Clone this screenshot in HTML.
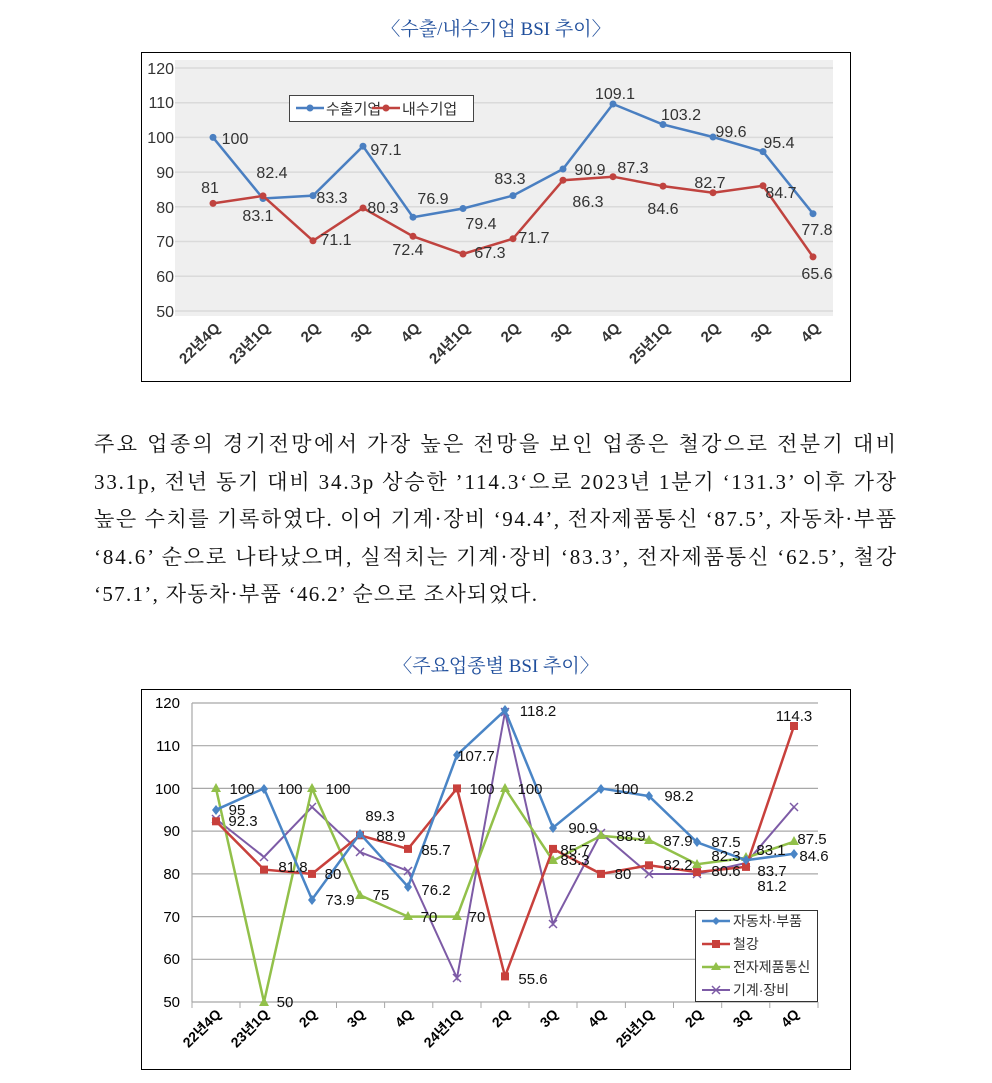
<!DOCTYPE html>
<html><head><meta charset="utf-8"><style>
html,body{margin:0;padding:0;background:#fff;}
svg{display:block;}
.t{font-family:"Liberation Sans","Noto Sans CJK KR",sans-serif;fill:#333;}
.b{font-family:"Liberation Serif","Noto Serif CJK SC",serif;fill:#111;font-size:21px;}
.h{font-family:"Liberation Serif","Noto Serif CJK SC",serif;fill:#1f4e9c;font-size:19px;}
</style></head><body>
<svg width="992" height="1083" viewBox="0 0 992 1083" xmlns="http://www.w3.org/2000/svg">
<text class="h" x="496" y="35" text-anchor="middle">〈수출/내수기업 BSI 추이〉</text>
<!-- top chart -->
<rect x="141.5" y="52.5" width="709" height="329" fill="#fff" stroke="#000"/>
<rect x="175" y="60" width="658" height="256" fill="#efefef"/>
<g stroke="#dadada" stroke-width="1.5">
<line x1="175" x2="833" y1="68" y2="68"/><line x1="175" x2="833" y1="102.7" y2="102.7"/><line x1="175" x2="833" y1="137.4" y2="137.4"/><line x1="175" x2="833" y1="172.1" y2="172.1"/><line x1="175" x2="833" y1="206.8" y2="206.8"/><line x1="175" x2="833" y1="241.5" y2="241.5"/><line x1="175" x2="833" y1="276.3" y2="276.3"/><line x1="175" x2="833" y1="311" y2="311"/>
</g>
<g class="t" font-size="16" text-anchor="end">
<text x="174" y="74">120</text><text x="174" y="108">110</text><text x="174" y="143">100</text><text x="174" y="178">90</text><text x="174" y="213">80</text><text x="174" y="247">70</text><text x="174" y="282">60</text><text x="174" y="317">50</text>
</g>
<g class="t" font-size="15" font-weight="bold" text-anchor="end">
<text transform="translate(221,329) rotate(-45)">22년4Q</text>
<text transform="translate(271,329) rotate(-45)">23년1Q</text>
<text transform="translate(321,329) rotate(-45)">2Q</text>
<text transform="translate(371,329) rotate(-45)">3Q</text>
<text transform="translate(421,329) rotate(-45)">4Q</text>
<text transform="translate(471,329) rotate(-45)">24년1Q</text>
<text transform="translate(521,329) rotate(-45)">2Q</text>
<text transform="translate(571,329) rotate(-45)">3Q</text>
<text transform="translate(621,329) rotate(-45)">4Q</text>
<text transform="translate(671,329) rotate(-45)">25년1Q</text>
<text transform="translate(721,329) rotate(-45)">2Q</text>
<text transform="translate(771,329) rotate(-45)">3Q</text>
<text transform="translate(821,329) rotate(-45)">4Q</text>
</g>
<polyline fill="none" stroke="#4a7fc1" stroke-width="2.5" points="213,137.4 263,198.5 313,195.6 363,146.2 413,217.2 463,208.5 513,195.6 563,169 613,104 663,124.5 713,137 763,151.6 813,213.7"/>
<g fill="#4a7fc1"><circle cx="213" cy="137.4" r="3.5"/><circle cx="263" cy="198.5" r="3.5"/><circle cx="313" cy="195.6" r="3.5"/><circle cx="363" cy="146.2" r="3.5"/><circle cx="413" cy="217.2" r="3.5"/><circle cx="463" cy="208.5" r="3.5"/><circle cx="513" cy="195.6" r="3.5"/><circle cx="563" cy="169" r="3.5"/><circle cx="613" cy="104" r="3.5"/><circle cx="663" cy="124.5" r="3.5"/><circle cx="713" cy="137" r="3.5"/><circle cx="763" cy="151.6" r="3.5"/><circle cx="813" cy="213.7" r="3.5"/></g>
<polyline fill="none" stroke="#c0433f" stroke-width="2.5" points="213,203.4 263,195.9 313,240.8 363,208 413,236.3 463,254 513,238.7 563,180.2 613,176.7 663,186.1 713,192.7 763,185.7 813,256.9"/>
<g fill="#c0433f"><circle cx="213" cy="203.4" r="3.5"/><circle cx="263" cy="195.9" r="3.5"/><circle cx="313" cy="240.8" r="3.5"/><circle cx="363" cy="208" r="3.5"/><circle cx="413" cy="236.3" r="3.5"/><circle cx="463" cy="254" r="3.5"/><circle cx="513" cy="238.7" r="3.5"/><circle cx="563" cy="180.2" r="3.5"/><circle cx="613" cy="176.7" r="3.5"/><circle cx="663" cy="186.1" r="3.5"/><circle cx="713" cy="192.7" r="3.5"/><circle cx="763" cy="185.7" r="3.5"/><circle cx="813" cy="256.9" r="3.5"/></g>
<g class="t" font-size="16" text-anchor="middle">
<text x="235" y="144">100</text><text x="272" y="178">82.4</text><text x="332" y="203">83.3</text><text x="386" y="155">97.1</text><text x="433" y="204">76.9</text><text x="481" y="229">79.4</text><text x="510" y="184">83.3</text><text x="590" y="175">90.9</text><text x="615" y="99">109.1</text><text x="681" y="120">103.2</text><text x="731" y="137">99.6</text><text x="779" y="148">95.4</text><text x="817" y="235">77.8</text>
<text x="210" y="193">81</text><text x="258" y="221">83.1</text><text x="336" y="245">71.1</text><text x="383" y="213">80.3</text><text x="408" y="255">72.4</text><text x="490" y="258">67.3</text><text x="534" y="243">71.7</text><text x="588" y="207">86.3</text><text x="633" y="173">87.3</text><text x="663" y="214">84.6</text><text x="710" y="188">82.7</text><text x="781" y="198">84.7</text><text x="817" y="279">65.6</text>
</g>
<rect x="289.5" y="95.5" width="184" height="26" fill="#fff" stroke="#444"/>
<line x1="296" x2="324" y1="108" y2="108" stroke="#4a7fc1" stroke-width="2.5"/><circle cx="310" cy="108" r="3.5" fill="#4a7fc1"/>
<text class="t" x="326" y="114" font-size="15" fill="#111">수출기업</text>
<line x1="372" x2="400" y1="108" y2="108" stroke="#c0433f" stroke-width="2.5"/><circle cx="386" cy="108" r="3.5" fill="#c0433f"/>
<text class="t" x="402" y="114" font-size="15" fill="#111">내수기업</text>

<!-- body text -->
<text class="b" x="94" y="451" textLength="802" lengthAdjust="spacing">주요 업종의 경기전망에서 가장 높은 전망을 보인 업종은 철강으로 전분기 대비</text>
<text class="b" x="94" y="489" textLength="802" lengthAdjust="spacing">33.1p, 전년 동기 대비 34.3p 상승한 ’114.3‘으로 2023년 1분기 ‘131.3’ 이후 가장</text>
<text class="b" x="94" y="526" textLength="802" lengthAdjust="spacing">높은 수치를 기록하였다. 이어 기계·장비 ‘94.4’, 전자제품통신 ‘87.5’, 자동차·부품</text>
<text class="b" x="94" y="564" textLength="802" lengthAdjust="spacing">‘84.6’ 순으로 나타났으며, 실적치는 기계·장비 ‘83.3’, 전자제품통신 ‘62.5’, 철강</text>
<text class="b" x="94" y="601" textLength="443" lengthAdjust="spacing">‘57.1’, 자동차·부품 ‘46.2’ 순으로 조사되었다.</text>

<text class="h" x="496" y="672" text-anchor="middle">〈주요업종별 BSI 추이〉</text>
<!-- bottom chart -->
<rect x="141.5" y="689.5" width="709" height="380" fill="#fff" stroke="#000"/>
<g stroke="#a8a8a8" stroke-width="1.2">
<line x1="192" x2="818" y1="703" y2="703"/><line x1="192" x2="818" y1="745.7" y2="745.7"/><line x1="192" x2="818" y1="788.4" y2="788.4"/><line x1="192" x2="818" y1="831.1" y2="831.1"/><line x1="192" x2="818" y1="873.9" y2="873.9"/><line x1="192" x2="818" y1="916.6" y2="916.6"/><line x1="192" x2="818" y1="959.3" y2="959.3"/><line x1="192" x2="818" y1="1002" y2="1002"/>
<line x1="192" x2="192" y1="703" y2="1002"/>
</g>
<g stroke="#a8a8a8" stroke-width="1"><line x1="192" x2="192" y1="1002" y2="1008"/><line x1="240" x2="240" y1="1002" y2="1008"/><line x1="288" x2="288" y1="1002" y2="1008"/><line x1="336.5" x2="336.5" y1="1002" y2="1008"/><line x1="384.6" x2="384.6" y1="1002" y2="1008"/><line x1="432.8" x2="432.8" y1="1002" y2="1008"/><line x1="481" x2="481" y1="1002" y2="1008"/><line x1="529" x2="529" y1="1002" y2="1008"/><line x1="577" x2="577" y1="1002" y2="1008"/><line x1="625.4" x2="625.4" y1="1002" y2="1008"/><line x1="673.5" x2="673.5" y1="1002" y2="1008"/><line x1="721.7" x2="721.7" y1="1002" y2="1008"/><line x1="769.8" x2="769.8" y1="1002" y2="1008"/><line x1="818" x2="818" y1="1002" y2="1008"/></g>
<g class="t" font-size="15" text-anchor="end">
<text x="180" y="708" fill="#000">120</text><text x="180" y="751" fill="#000">110</text><text x="180" y="794" fill="#000">100</text><text x="180" y="836" fill="#000">90</text><text x="180" y="879" fill="#000">80</text><text x="180" y="922" fill="#000">70</text><text x="180" y="964" fill="#000">60</text><text x="180" y="1007" fill="#000">50</text>
</g>
<g class="t" font-size="14" font-weight="bold" text-anchor="end">
<text transform="translate(222,1015) rotate(-45)" fill="#000">22년4Q</text>
<text transform="translate(270,1015) rotate(-45)" fill="#000">23년1Q</text>
<text transform="translate(318,1015) rotate(-45)" fill="#000">2Q</text>
<text transform="translate(366,1015) rotate(-45)" fill="#000">3Q</text>
<text transform="translate(414,1015) rotate(-45)" fill="#000">4Q</text>
<text transform="translate(463,1015) rotate(-45)" fill="#000">24년1Q</text>
<text transform="translate(511,1015) rotate(-45)" fill="#000">2Q</text>
<text transform="translate(559,1015) rotate(-45)" fill="#000">3Q</text>
<text transform="translate(607,1015) rotate(-45)" fill="#000">4Q</text>
<text transform="translate(655,1015) rotate(-45)" fill="#000">25년1Q</text>
<text transform="translate(704,1015) rotate(-45)" fill="#000">2Q</text>
<text transform="translate(752,1015) rotate(-45)" fill="#000">3Q</text>
<text transform="translate(800,1015) rotate(-45)" fill="#000">4Q</text>
</g>
<!-- purple -->
<polyline fill="none" stroke="#7d5ba6" stroke-width="2" points="216,819 264,857 312,807 360,852 408,871 457,978 505,712 553,924 601,833 649,874 697,874 746,863 794,807"/>
<g stroke="#7d5ba6" stroke-width="1.5">
<path d="M212,815l8,8m0,-8l-8,8M260,853l8,8m0,-8l-8,8M308,803l8,8m0,-8l-8,8M356,848l8,8m0,-8l-8,8M404,867l8,8m0,-8l-8,8M453,974l8,8m0,-8l-8,8M501,708l8,8m0,-8l-8,8M549,920l8,8m0,-8l-8,8M597,829l8,8m0,-8l-8,8M645,870l8,8m0,-8l-8,8M693,870l8,8m0,-8l-8,8M742,859l8,8m0,-8l-8,8M790,803l8,8m0,-8l-8,8"/>
</g>
<!-- green -->
<polyline fill="none" stroke="#92c04a" stroke-width="2.5" points="216,788.4 264,1002 312,788.4 360,895.2 408,916.6 457,916.6 505,788.4 553,860.7 601,835.8 649,840.1 697,864.2 746,857.8 794,841.7"/>
<g fill="#92c04a"><path d="M216,783l5,9h-10zM264,997l5,9h-10zM312,783l5,9h-10zM360,890l5,9h-10zM408,911l5,9h-10zM457,911l5,9h-10zM505,783l5,9h-10zM553,855l5,9h-10zM601,830l5,9h-10zM649,835l5,9h-10zM697,859l5,9h-10zM746,852l5,9h-10zM794,836l5,9h-10z"/></g>
<!-- red -->
<polyline fill="none" stroke="#c8403c" stroke-width="2.5" points="216,821.3 264,869.6 312,873.9 360,835.3 408,848.9 457,788.4 505,976.4 553,848.9 601,873.9 649,865.3 697,872.1 746,866.9 794,726"/>
<g fill="#c8403c"><rect x="212" y="817.3" width="8" height="8"/><rect x="260" y="865.6" width="8" height="8"/><rect x="308" y="869.9" width="8" height="8"/><rect x="356" y="831.3" width="8" height="8"/><rect x="404" y="844.9" width="8" height="8"/><rect x="453" y="784.4" width="8" height="8"/><rect x="501" y="972.4" width="8" height="8"/><rect x="549" y="844.9" width="8" height="8"/><rect x="597" y="869.9" width="8" height="8"/><rect x="645" y="861.3" width="8" height="8"/><rect x="693" y="868.1" width="8" height="8"/><rect x="742" y="862.9" width="8" height="8"/><rect x="790" y="722" width="8" height="8"/></g>
<!-- blue -->
<polyline fill="none" stroke="#4a85c6" stroke-width="2.5" points="216,809.8 264,788.4 312,899.5 360,833.6 408,886.7 457,755.1 505,710.3 553,827.7 601,788.4 649,796.1 697,842.3 746,860.2 794,853.8"/>
<g fill="#4a85c6"><path d="M216,805l4,5-4,5-4,-5zM264,784l4,5-4,5-4,-5zM312,895l4,5-4,5-4,-5zM360,829l4,5-4,5-4,-5zM408,882l4,5-4,5-4,-5zM457,750l4,5-4,5-4,-5zM505,705l4,5-4,5-4,-5zM553,823l4,5-4,5-4,-5zM601,784l4,5-4,5-4,-5zM649,791l4,5-4,5-4,-5zM697,837l4,5-4,5-4,-5zM746,855l4,5-4,5-4,-5zM794,849l4,5-4,5-4,-5z"/></g>
<g class="t" font-size="15" text-anchor="middle">
<text x="242" y="794" fill="#111">100</text><text x="237" y="815" fill="#111">95</text><text x="243" y="826" fill="#111">92.3</text><text x="290" y="794" fill="#111">100</text><text x="293" y="872" fill="#111">81.8</text><text x="338" y="794" fill="#111">100</text><text x="333" y="879" fill="#111">80</text><text x="340" y="905" fill="#111">73.9</text><text x="380" y="821" fill="#111">89.3</text><text x="391" y="841" fill="#111">88.9</text><text x="381" y="900" fill="#111">75</text><text x="436" y="855" fill="#111">85.7</text><text x="436" y="895" fill="#111">76.2</text><text x="429" y="922" fill="#111">70</text><text x="477" y="922" fill="#111">70</text><text x="476" y="761" fill="#111">107.7</text><text x="482" y="794" fill="#111">100</text><text x="530" y="794" fill="#111">100</text><text x="538" y="716" fill="#111">118.2</text><text x="533" y="984" fill="#111">55.6</text><text x="285" y="1007" fill="#111">50</text><text x="583" y="833" fill="#111">90.9</text><text x="575" y="855" fill="#111">85.7</text><text x="575" y="865" fill="#111">83.3</text><text x="626" y="794" fill="#111">100</text><text x="631" y="841" fill="#111">88.9</text><text x="623" y="879" fill="#111">80</text><text x="679" y="801" fill="#111">98.2</text><text x="678" y="846" fill="#111">87.9</text><text x="678" y="870" fill="#111">82.2</text><text x="726" y="847" fill="#111">87.5</text><text x="726" y="861" fill="#111">82.3</text><text x="726" y="876" fill="#111">80.6</text><text x="771" y="855" fill="#111">83.1</text><text x="772" y="876" fill="#111">83.7</text><text x="772" y="891" fill="#111">81.2</text><text x="794" y="721" fill="#111">114.3</text><text x="812" y="844" fill="#111">87.5</text><text x="814" y="861" fill="#111">84.6</text>
</g>
<rect x="695.5" y="910.5" width="122" height="91" fill="#fff" stroke="#333"/>
<line x1="702" x2="730" y1="921" y2="921" stroke="#4a85c6" stroke-width="2.5"/><path d="M716,917l4,4-4,4-4,-4z" fill="#4a85c6"/>
<text class="t" x="733" y="926" font-size="14" fill="#111">자동차·부품</text>
<line x1="702" x2="730" y1="944" y2="944" stroke="#c8403c" stroke-width="2.5"/><rect x="712" y="940" width="8" height="8" fill="#c8403c"/>
<text class="t" x="733" y="949" font-size="14" fill="#111">철강</text>
<line x1="702" x2="730" y1="967" y2="967" stroke="#92c04a" stroke-width="2.5"/><path d="M716,962l5,8h-10z" fill="#92c04a"/>
<text class="t" x="733" y="972" font-size="14" fill="#111">전자제품통신</text>
<line x1="702" x2="730" y1="990" y2="990" stroke="#7d5ba6" stroke-width="2"/><path d="M712,986l8,8m0,-8l-8,8" stroke="#7d5ba6" stroke-width="1.5"/>
<text class="t" x="733" y="995" font-size="14" fill="#111">기계·장비</text>
</svg>
</body></html>
